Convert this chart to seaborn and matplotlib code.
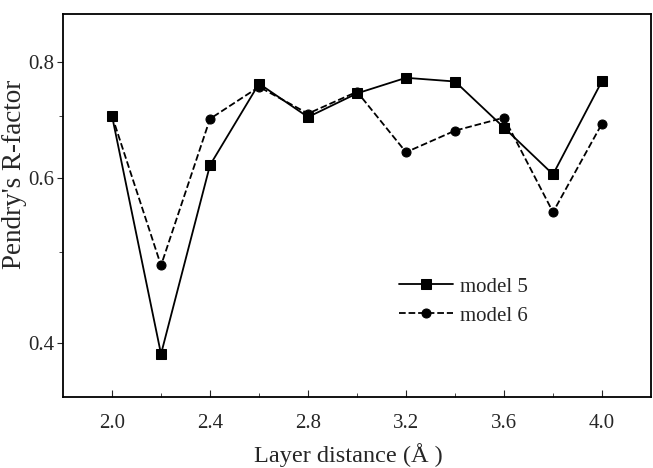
import numpy as np
import pandas as pd
import seaborn as sns
import matplotlib.pyplot as plt
from matplotlib.ticker import FixedLocator, FixedFormatter, NullFormatter

# dados
distancia = [2.0, 2.2, 2.4, 2.6, 2.8, 3.0, 3.2, 3.4, 3.6, 3.8, 4.0]
modelo5 = [0.700, 0.389, 0.620, 0.758, 0.698, 0.740, 0.769, 0.762, 0.680, 0.606, 0.763]
modelo6 = [0.700, 0.484, 0.695, 0.752, 0.704, 0.743, 0.640, 0.675, 0.697, 0.552, 0.687]

df5 = pd.DataFrame({'x': distancia, 'y': modelo5})
df6 = pd.DataFrame({'x': distancia, 'y': modelo6})

sns.set_style('ticks')
plt.rcParams['font.family'] = ['Liberation Serif', 'DejaVu Serif']

fig = plt.figure(figsize=(6.53, 4.68), dpi=100)
ax = fig.add_axes([0.0965, 0.152, 0.9005, 0.818])

sns.lineplot(data=df5, x='x', y='y', ax=ax, color='black', lw=1.3,
             marker='s', markersize=6.5, markeredgecolor='black', label='model 5')
sns.lineplot(data=df6, x='x', y='y', ax=ax, color='black', lw=1.3,
             marker='o', markersize=6.5, markeredgecolor='black',
             linestyle='--', dashes=(4, 3), label='model 6')

ax.set_yscale('log')
ax.set_xlim(1.8, 4.2)
ax.set_ylim(0.35, 0.9)

ax.set_xticks([2.0, 2.4, 2.8, 3.2, 3.6, 4.0])
ax.set_xticks([2.2, 2.6, 3.0, 3.4, 3.8], minor=True)
ax.yaxis.set_major_locator(FixedLocator([0.4, 0.6, 0.8]))
ax.yaxis.set_major_formatter(FixedFormatter(['0.4', '0.6', '0.8']))
ax.yaxis.set_minor_locator(FixedLocator([0.5, 0.7]))
ax.yaxis.set_minor_formatter(NullFormatter())

ax.tick_params(axis='x', which='both', direction='in', labelsize=15, pad=12)
ax.tick_params(axis='x', which='major', length=5)
ax.tick_params(axis='x', which='minor', length=3)
ax.tick_params(axis='y', which='both', direction='out', labelsize=15, pad=2)
ax.tick_params(axis='y', which='major', length=4)
ax.tick_params(axis='y', which='minor', length=3)

for s in ax.spines.values():
    s.set_linewidth(1.3)
    s.set_color('black')

ax.set_xlabel('Layer distance (Å )', fontsize=17.5, va='top')
ax.xaxis.set_label_coords(0.485, -0.12)
ax.set_ylabel("Pendry's R-factor", fontsize=19.5)
ax.yaxis.set_label_coords(-0.062, 0.58)

ax.legend(loc='upper left', bbox_to_anchor=(0.54, 0.362), frameon=False,
          fontsize=15, handlelength=2.6, handletextpad=0.3, labelspacing=0.45)

fig.savefig('out.png', dpi=100)
